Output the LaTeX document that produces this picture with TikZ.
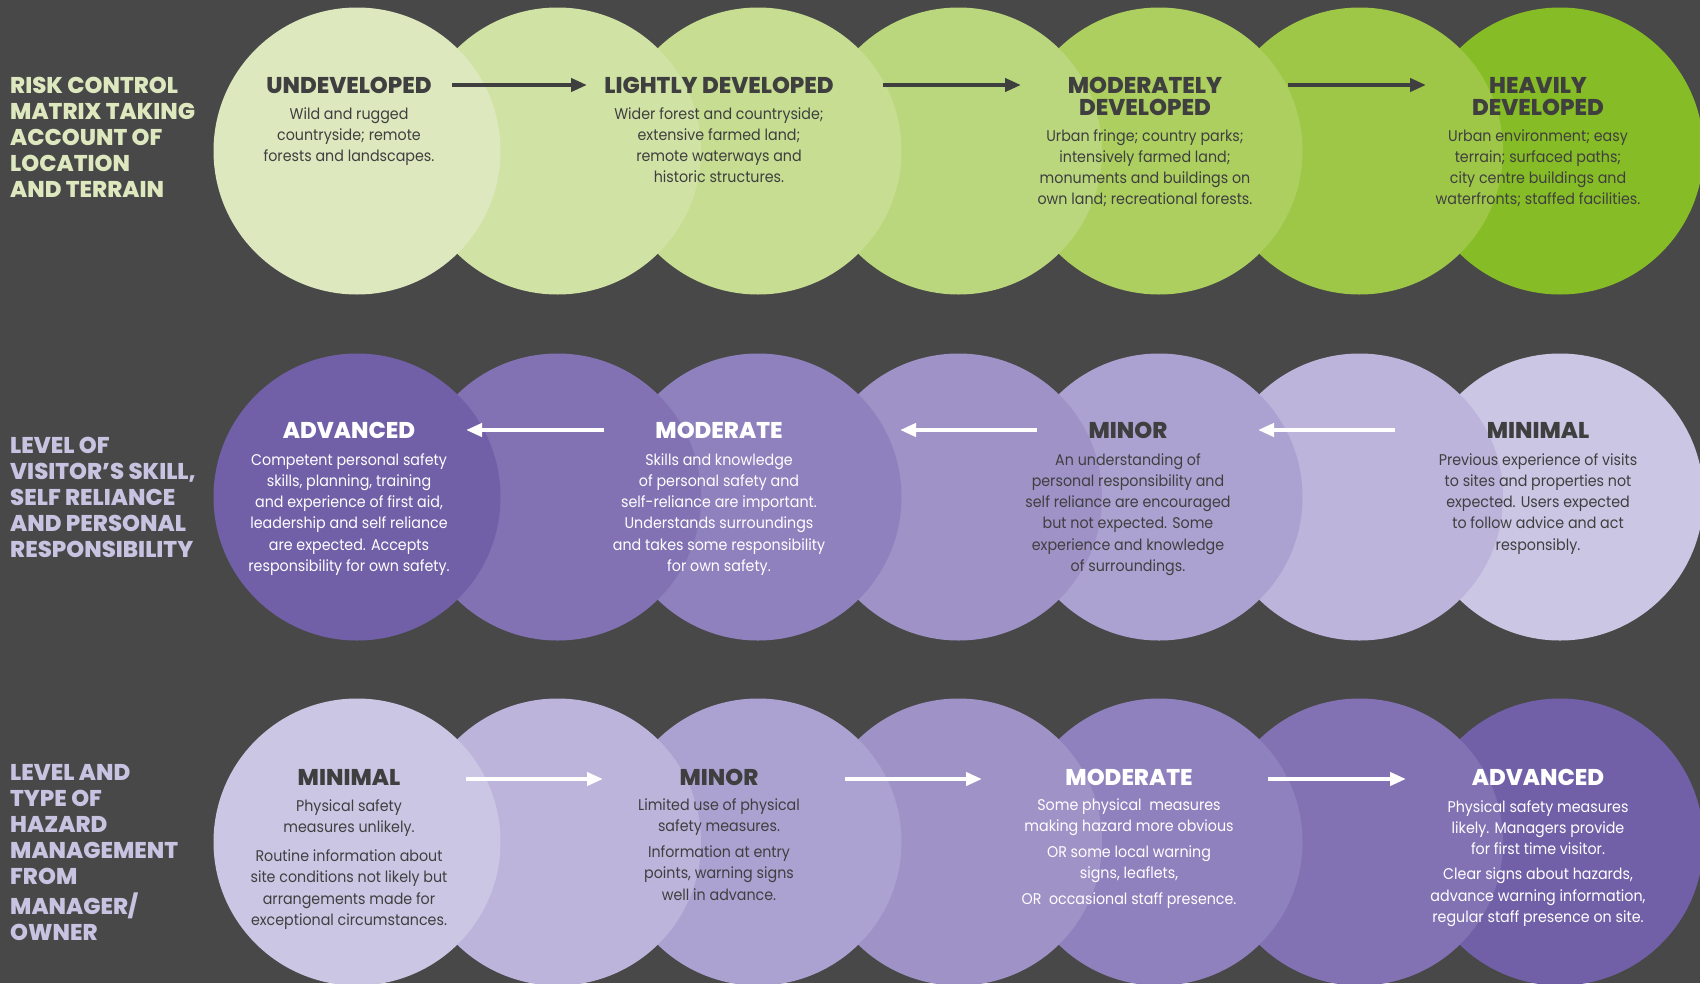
\documentclass[tikz,border=0pt]{standalone}
\usepackage{fontspec}
\setmainfont{Poppins}
\newfontfamily\heavyfont{Poppins ExtraBold}
\newfontfamily\bodyfont{Poppins}[FakeStretch=0.92]
\usetikzlibrary{arrows.meta}
\definecolor{bg}{HTML}{484848}
\definecolor{ink}{HTML}{3F3F3F}
\definecolor{gA}{HTML}{DDE8BF}
\definecolor{gB}{HTML}{D1E2A5}
\definecolor{gC}{HTML}{C6DD92}
\definecolor{gD}{HTML}{BAD77D}
\definecolor{gE}{HTML}{ACCF60}
\definecolor{gF}{HTML}{9EC748}
\definecolor{gG}{HTML}{86BC25}
\definecolor{pA}{HTML}{7160A8}
\definecolor{pB}{HTML}{8272B4}
\definecolor{pC}{HTML}{8F81BD}
\definecolor{pD}{HTML}{9E92C7}
\definecolor{pE}{HTML}{ACA2D1}
\definecolor{pF}{HTML}{BCB4DB}
\definecolor{pG}{HTML}{CCC6E5}
\definecolor{labg}{HTML}{DDE8BF}
\definecolor{labp}{HTML}{C9C3E2}
\newcommand\bt[1]{\begin{tabular}[t]{@{}c@{}}#1\end{tabular}}
\newcommand\lt[1]{\begin{tabular}[t]{@{}l@{}}#1\end{tabular}}
\tikzset{
  disc/.style={circle, inner sep=0pt, minimum size=287pt, draw=none},
  head/.style={anchor=base, inner sep=0pt, font=\heavyfont\fontsize{22.8}{22}\selectfont},
  body/.style={anchor=base, inner sep=0pt, font=\bodyfont\fontsize{15.5}{21.3}\selectfont},
  lab/.style={anchor=base west, inner sep=0pt, font=\heavyfont\fontsize{22.8}{26.2}\selectfont},
  arr/.style={line width=4pt, -{Triangle[length=16pt,width=13pt]}},
}
\begin{document}
\begin{tikzpicture}[x=1pt,y=-1pt]
\useasboundingbox (0,0) rectangle (1700,983);
\clip (0,0) rectangle (1700,983);
\fill[bg] (0,0) rectangle (1700,983);

% row 1 circles (right to left, left on top)
\node[disc, fill=gG] (r1c7) at (1560,151) {};
\node[disc, fill=gF] (r1c6) at (1359.5,151) {};
\node[disc, fill=gE] (r1c5) at (1159,151) {};
\node[disc, fill=gD] (r1c4) at (958.5,151) {};
\node[disc, fill=gC] (r1c3) at (758,151) {};
\node[disc, fill=gB] (r1c2) at (557.5,151) {};
\node[disc, fill=gA] (r1c1) at (357,151) {};
% row 2 circles
\node[disc, fill=pG] (r2c7) at (1560,497) {};
\node[disc, fill=pF] (r2c6) at (1359.5,497) {};
\node[disc, fill=pE] (r2c5) at (1159,497) {};
\node[disc, fill=pD] (r2c4) at (958.5,497) {};
\node[disc, fill=pC] (r2c3) at (758,497) {};
\node[disc, fill=pB] (r2c2) at (557.5,497) {};
\node[disc, fill=pA] (r2c1) at (357,497) {};
% row 3 circles
\node[disc, fill=pA] (r3c7) at (1560,842) {};
\node[disc, fill=pB] (r3c6) at (1359.5,842) {};
\node[disc, fill=pC] (r3c5) at (1159,842) {};
\node[disc, fill=pD] (r3c4) at (958.5,842) {};
\node[disc, fill=pE] (r3c3) at (758,842) {};
\node[disc, fill=pF] (r3c2) at (557.5,842) {};
\node[disc, fill=pG] (r3c1) at (357,842) {};

% row labels
\node[lab, text=labg] (lab1) at (10,93) {\lt{RISK CONTROL\\MATRIX TAKING\\ACCOUNT OF\\LOCATION\\AND TERRAIN}};
\node[lab, text=labp] (lab2) at (10,453) {\lt{LEVEL OF\\VISITOR’S SKILL,\\SELF RELIANCE\\AND PERSONAL\\RESPONSIBILITY}};
\node[lab, text=labp] (lab3) at (10,780) {\lt{LEVEL AND\\TYPE OF\\HAZARD\\MANAGEMENT\\FROM\\MANAGER/\\OWNER}};

% row 1 texts
\node[head, text=ink] (h11) at (349,93) {UNDEVELOPED};
\node[body, text=ink] (b11) at (349,119) {\bt{Wild and rugged\\countryside; remote\\forests and landscapes.}};
\node[head, text=ink] (h12) at (719,93) {LIGHTLY DEVELOPED};
\node[body, text=ink] (b12) at (719,119) {\bt{Wider forest and countryside;\\extensive farmed land;\\remote waterways and\\historic structures.}};
\node[head, text=ink] (h13) at (1145,93) {\bt{MODERATELY\\DEVELOPED}};
\node[body, text=ink] (b13) at (1145,141) {\bt{Urban fringe; country parks;\\intensively farmed land;\\monuments and buildings on\\own land; recreational forests.}};
\node[head, text=ink] (h14) at (1538,93) {\bt{HEAVILY\\DEVELOPED}};
\node[body, text=ink] (b14) at (1538,141) {\bt{Urban environment; easy\\terrain; surfaced paths;\\city centre buildings and\\waterfronts; staffed facilities.}};

\coordinate (a11s) at (452,85); \coordinate (a11e) at (587,85);
\coordinate (a12s) at (883,85); \coordinate (a12e) at (1021,85);
\coordinate (a13s) at (1288,85); \coordinate (a13e) at (1426,85);
\draw[arr, ink] (a11s) -- (a11e);
\draw[arr, ink] (a12s) -- (a12e);
\draw[arr, ink] (a13s) -- (a13e);

% row 2 texts
\node[head, text=white] (h21) at (349,438) {ADVANCED};
\node[body, text=white] (b21) at (349,465) {\bt{Competent personal safety\\skills, planning, training\\and experience of first aid,\\leadership and self reliance\\are expected. Accepts\\responsibility for own safety.}};
\node[head, text=white] (h22) at (719,438) {MODERATE};
\node[body, text=white] (b22) at (719,465) {\bt{Skills and knowledge\\of personal safety and\\self-reliance are important.\\Understands surroundings\\and takes some responsibility\\for own safety.}};
\node[head, text=ink] (h23) at (1128,438) {MINOR};
\node[body, text=ink] (b23) at (1128,465) {\bt{An understanding of\\personal responsibility and\\self reliance are encouraged\\but not expected. Some\\experience and knowledge\\of surroundings.}};
\node[head, text=ink] (h24) at (1538,438) {MINIMAL};
\node[body, text=ink] (b24) at (1538,465) {\bt{Previous experience of visits\\to sites and properties not\\expected. Users expected\\to follow advice and act\\responsibly.}};

\coordinate (a21s) at (604,430); \coordinate (a21e) at (466,430);
\coordinate (a22s) at (1037,430); \coordinate (a22e) at (900,430);
\coordinate (a23s) at (1395,430); \coordinate (a23e) at (1258,430);
\draw[arr, white] (a21s) -- (a21e);
\draw[arr, white] (a22s) -- (a22e);
\draw[arr, white] (a23s) -- (a23e);

% row 3 texts
\node[head, text=ink] (h31) at (349,785) {MINIMAL};
\node[body, text=ink] (b31) at (349,811) {\bt{Physical safety\\measures unlikely.\\[8pt]Routine information about\\site conditions not likely but\\arrangements made for\\exceptional circumstances.}};
\node[head, text=ink] (h32) at (719,785) {MINOR};
\node[body, text=ink] (b32) at (719,810) {\bt{Limited use of physical\\safety measures.\\[5pt]Information at entry\\points, warning signs\\well in advance.}};
\node[head, text=white] (h33) at (1129,785) {MODERATE};
\node[body, text=white] (b33) at (1129,810) {\bt{Some physical\ \ measures\\making hazard more obvious\\[5pt]OR some local warning\\signs, leaflets,\\[4pt]OR\ \ occasional staff presence.}};
\node[head, text=white] (h34) at (1538,785) {ADVANCED};
\node[body, text=white] (b34) at (1538,812) {\bt{Physical safety measures\\likely. Managers provide\\for first time visitor.\\[4pt]Clear signs about hazards,\\advance warning information,\\regular staff presence on site.}};

\coordinate (a31s) at (466,779); \coordinate (a31e) at (603,779);
\coordinate (a32s) at (845,779); \coordinate (a32e) at (982,779);
\coordinate (a33s) at (1268,779); \coordinate (a33e) at (1406,779);
\draw[arr, white] (a31s) -- (a31e);
\draw[arr, white] (a32s) -- (a32e);
\draw[arr, white] (a33s) -- (a33e);
\end{tikzpicture}
\end{document}
